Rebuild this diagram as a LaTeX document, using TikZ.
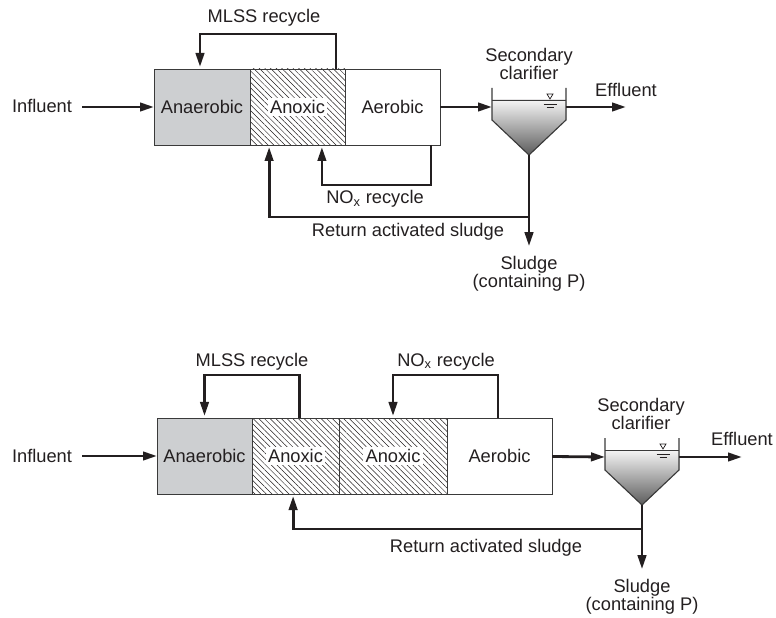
\documentclass[tikz,border=0pt]{standalone}
\usepackage{fontspec}
\setmainfont{Liberation Sans}
\usetikzlibrary{arrows.meta,positioning,patterns.meta}
\definecolor{ink}{HTML}{231F20}
\definecolor{edge}{HTML}{3A3A3A}
\definecolor{tankgray}{HTML}{CDCFD1}

\tikzset{
 clarifier/.pic={
  % sludge blanket: pale at the surface, dark down in the cone
  \fill[top color=black!4,middle color=black!15,bottom color=black!64]
   (-37,0) -- (37,0) -- (37,20) -- (0,55) -- (-37,20) -- cycle;
  \draw[edge,line width=0.8pt] (-37,-12) -- (-37,20) -- (0,55) -- (37,20) -- (37,-12);
  \draw[edge,line width=0.6pt] (-37,0) -- (37,0);
  % water level mark
  \draw[ink,line width=0.5pt] (18,-6) -- (24,-6) -- (21,-1) -- cycle;
  \draw[ink,line width=0.5pt] (14.5,4) -- (27.5,4) (17.5,7) -- (24.5,7);
  \coordinate (-in) at (-37,7);
  \coordinate (-out) at (37,7);
  \coordinate (-bot) at (0,55);
 }
}

\begin{document}
\begin{tikzpicture}[x=0.25mm,y=-0.25mm,color=ink,
 font=\fontsize{13pt}{12.6pt}\selectfont,
 >={Triangle[length=3.5mm,width=2.1mm]},
 zone/.style={draw=edge,line width=0.7pt,minimum height=19mm,inner sep=0pt,outer sep=0pt},
 anox/.style={zone,pattern={Lines[angle=-45,distance=1mm,line width=0.35pt]},pattern color=ink},
 txt/.style={inner sep=1pt},
 flow/.style={->,line width=2pt}]
 \useasboundingbox (0,0) rectangle (776,618);
 \setlength{\fboxsep}{1.5pt}

 % A2/O process
 \node[zone,fill=tankgray,minimum width=24mm] (an1) at (202,107) {Anaerobic};
 \node[anox,minimum width=23.75mm,right=0pt of an1] (ax1) {\colorbox{white}{Anoxic}};
 \node[zone,minimum width=23.75mm,right=0pt of ax1] (aer1) {Aerobic};
 \pic (cl1) at (529,100) {clarifier};
 \coordinate (jn1) at (529,217);

 \node[txt,anchor=base] (inf1) at (42,113) {Influent};
 \node[txt,anchor=base] (mlss1) at (264,23) {MLSS recycle};
 \node[txt,anchor=base] (nox1) at (375,204) {NO\textsubscript{x} recycle};
 \node[txt,anchor=base] (ras1) at (408,237) {Return activated sludge};
 \node[txt,anchor=base] (eff1) at (626,97) {Effluent};
 \node[txt,align=center,anchor=north] (sc1) at (529,47) {Secondary\\clarifier};
 \node[txt,align=center,anchor=north] (sl1) at (529,255) {Sludge\\(containing P)};

 \draw[flow,shorten <=2.1mm] (an1.west -| inf1.east) -- (an1.west);
 \draw[flow] (aer1) -- (cl1-in);
 \draw[flow] (cl1-out) -- (cl1-out -| eff1);
 \draw[flow,shorten >=2.2mm] (cl1-bot) -- (sl1);
 \draw[flow,shorten >=0.5mm] ([xshift=9.6mm]ax1.north) -- ++(0,-35) -| ([xshift=-0.5mm]an1.north);
 \draw[flow,shorten >=0.5mm] ([xshift=9.6mm]aer1.south) -- ++(0,40) -| ([xshift=6.1mm]ax1.south);
 \draw[flow,shorten >=0.5mm] (jn1) -| ([xshift=-7.1mm]ax1.south);

 % modified UCT process
 \node[zone,fill=tankgray,minimum width=23.75mm] (an2) at (204.5,456) {Anaerobic};
 \node[anox,minimum width=21.75mm,right=0pt of an2] (ax2) {\colorbox{white}{Anoxic}};
 \node[anox,minimum width=27mm,right=0pt of ax2] (ax3) {\colorbox{white}{Anoxic}};
 \node[zone,minimum width=26.25mm,right=0pt of ax3] (aer2) {Aerobic};
 \pic (cl2) at (642,450) {clarifier};
 \coordinate (jn2) at (642,529);

 \node[txt,anchor=base] (inf2) at (42,462) {Influent};
 \node[txt,anchor=base] (mlss2) at (252,366) {MLSS recycle};
 \node[txt,anchor=base] (nox2) at (446,366) {NO\textsubscript{x} recycle};
 \node[txt,anchor=base] (ras2) at (486,552) {Return activated sludge};
 \node[txt,anchor=base] (eff2) at (742,445) {Effluent};
 \node[txt,align=center,anchor=north] (sc2) at (641,397) {Secondary\\clarifier};
 \node[txt,align=center,anchor=north] (sl2) at (642,578) {Sludge\\(containing P)};

 \draw[flow,shorten <=2.1mm] (an2.west -| inf2.east) -- (an2.west);
 \draw[flow] (aer2) -- (cl2-in);
 \draw[flow] (cl2-out) -- (cl2-out -| eff2);
 \draw[flow,shorten >=2.2mm] (cl2-bot) -- (sl2);
 \draw[flow,shorten >=0.5mm] ([xshift=0.9mm]ax2.north) -- ++(0,-43) -| (an2.north);
 \draw[flow,shorten >=0.5mm] ([xshift=-0.4mm]aer2.north) -- ++(0,-43) -| (ax3.north);
 \draw[flow,shorten >=0.5mm] (jn2) -| ([xshift=-0.6mm]ax2.south);
\end{tikzpicture}
\end{document}
